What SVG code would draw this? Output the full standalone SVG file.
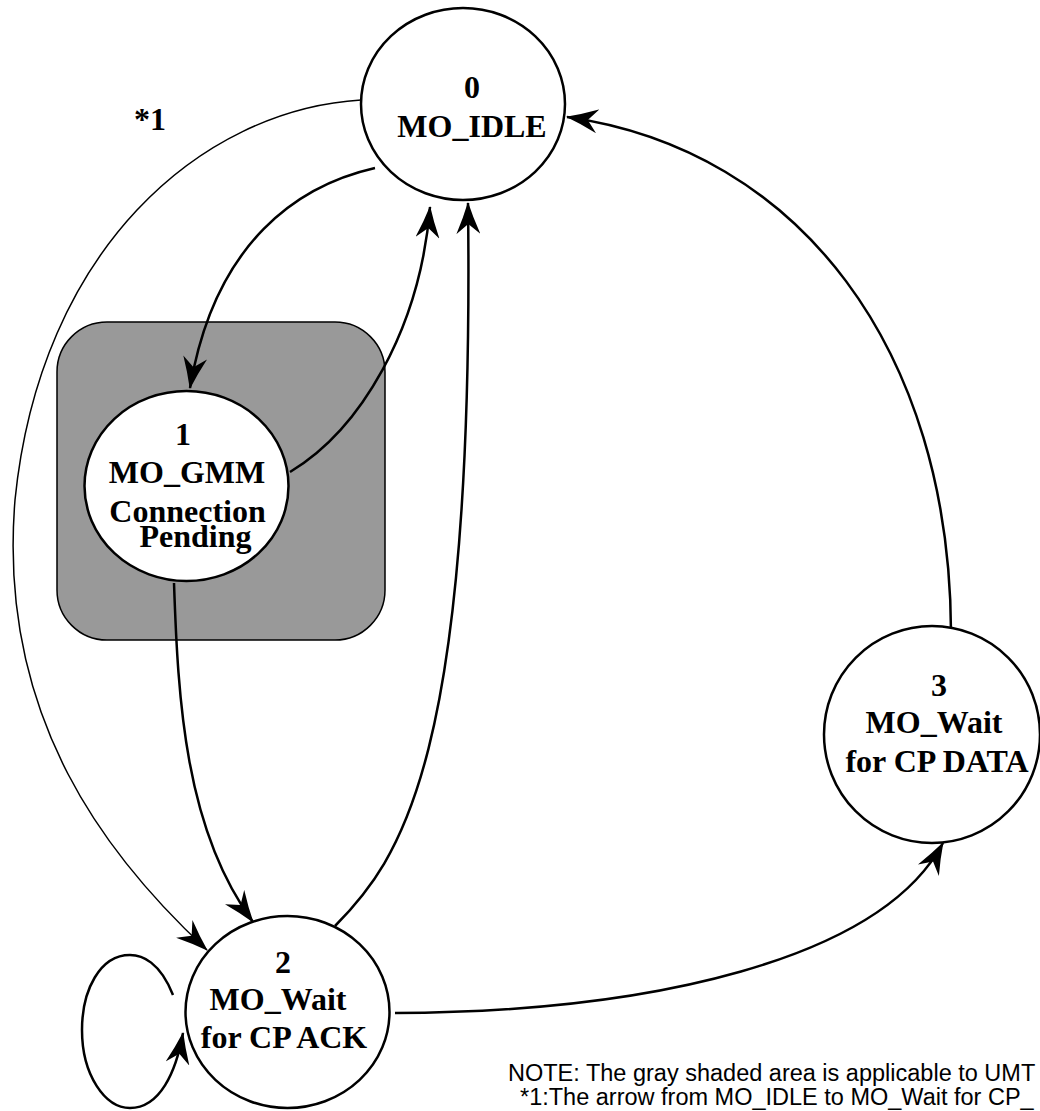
<svg xmlns="http://www.w3.org/2000/svg" width="1040" height="1111" viewBox="0 0 1040 1111">
<style>
.node{fill:#fff;stroke:#000;stroke-width:2.5}
.lbl{font-family:"Liberation Serif","Times New Roman",serif;font-weight:bold;font-size:32px;fill:#000;text-anchor:middle}
.edge{fill:none;stroke:#000;stroke-width:2.5}
.thin{fill:none;stroke:#000;stroke-width:1.5}
.note{font-family:"Liberation Sans",Arial,sans-serif;font-size:23.5px;fill:#000}
</style>
<defs>
<marker id="ah" markerUnits="userSpaceOnUse" viewBox="0 0 32 24" markerWidth="32" markerHeight="24" refX="31" refY="12" orient="auto">
<path d="M32,12 Q16,7 0,0 L10,12 L0,24 Q16,17 32,12 Z" fill="#000"/>
</marker>
</defs>
<rect id="umts-area" x="57" y="322" width="328" height="318" rx="50" ry="50" fill="#999999" stroke="#000" stroke-width="1.5"/>
<g id="connectors">
<path class="thin" d="M361 100 C200 110 40 250 15 500 C-3 720 110 860 207 950" marker-end="url(#ah)"/>
<path class="edge" d="M375 168 C300 185 215 240 190 388" marker-end="url(#ah)"/>
<path class="edge" d="M290 472 C360 430 420 330 430 207" marker-end="url(#ah)"/>
<path class="edge" d="M174 583 C178 700 185 830 253 922" marker-end="url(#ah)"/>
<path class="edge" d="M335 926 C400 860 475 760 468 203" marker-end="url(#ah)"/>
<path class="edge" d="M395 1013 C650 1012 880 960 943 843" marker-end="url(#ah)"/>
<path class="edge" d="M951 632 C950 350 800 150 567 117" marker-end="url(#ah)"/>
<path class="edge" d="M173 995 C160 962 142 955 130 955 C100 955 82 990 82 1030 C82 1075 105 1108 130 1108 C160 1108 176 1072 183 1033" marker-end="url(#ah)"/>
</g>
<g id="node0">
<ellipse class="node" cx="463" cy="104" rx="102" ry="96"/>
<text class="lbl" x="472" y="98">0</text>
<text class="lbl" x="472" y="137">MO_IDLE</text>
</g>
<g id="node1">
<ellipse class="node" cx="186.5" cy="486" rx="102" ry="95"/>
<text class="lbl" x="183" y="445">1</text>
<text class="lbl" x="187" y="483">MO_GMM</text>
<text class="lbl" x="187.5" y="522">Connection</text>
<text class="lbl" x="195.5" y="547">Pending</text>
</g>
<g id="node2">
<ellipse class="node" cx="287.5" cy="1012" rx="102" ry="96"/>
<text class="lbl" x="283" y="973">2</text>
<text class="lbl" x="278" y="1010">MO_Wait</text>
<text class="lbl" x="284" y="1048">for CP ACK</text>
</g>
<g id="node3">
<ellipse class="node" cx="932" cy="734.5" rx="108" ry="108.5"/>
<text class="lbl" x="939" y="696">3</text>
<text class="lbl" x="934" y="733">MO_Wait</text>
<text class="lbl" x="937" y="772">for CP DATA</text>
</g>
<text class="lbl" x="150" y="130">*1</text>
<text class="note" x="508" y="1081">NOTE: The gray shaded area is applicable to UMT</text>
<text class="note" x="520" y="1105">*1:The arrow from MO_IDLE to MO_Wait for CP_</text>
</svg>
